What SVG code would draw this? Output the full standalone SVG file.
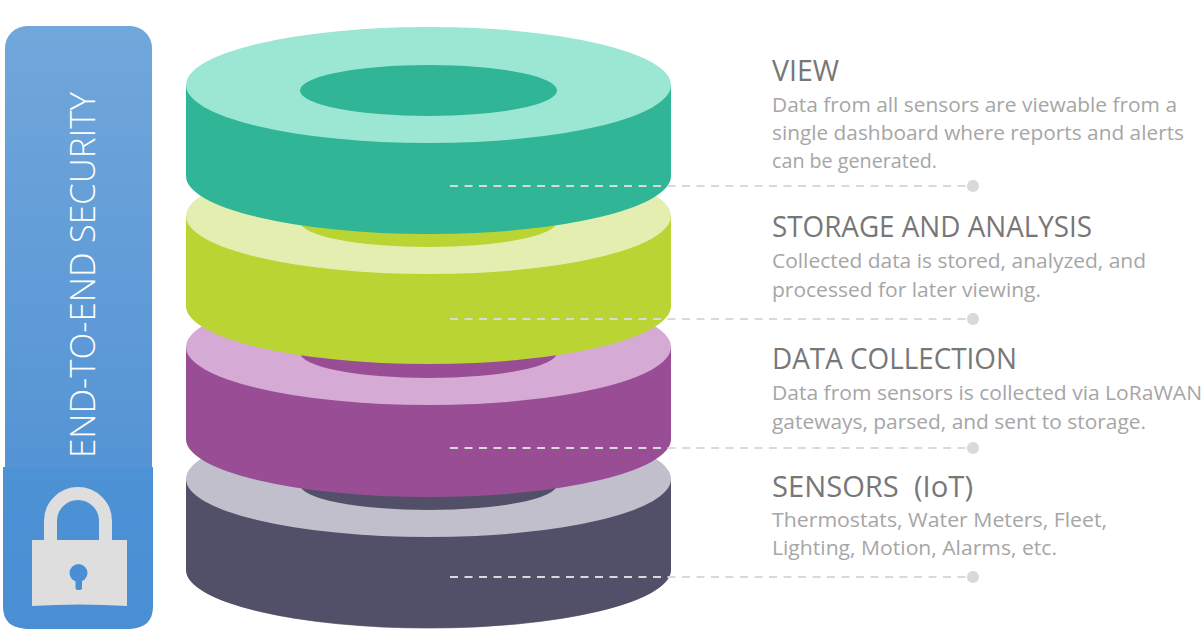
<svg xmlns="http://www.w3.org/2000/svg" width="1203" height="629" viewBox="0 0 1203 629">
  <defs>
    <linearGradient id="barGrad" x1="0" y1="0" x2="0" y2="1">
      <stop offset="0" stop-color="#71a7db"/>
      <stop offset="1" stop-color="#4a8dd2"/>
    </linearGradient>
    <linearGradient id="lockGrad" x1="0" y1="0" x2="0" y2="1">
      <stop offset="0" stop-color="#4e92d6"/>
      <stop offset="1" stop-color="#4a8ed3"/>
    </linearGradient>
    <marker id="dot" viewBox="0 0 14 14" refX="7" refY="7" markerWidth="13" markerHeight="13" markerUnits="userSpaceOnUse">
      <circle cx="7" cy="7" r="6.5" fill="#d9d9d9"/>
    </marker>
  </defs>
  <style>
    .head { font-family: "Open Sans", "Liberation Sans", sans-serif; font-size: 30px; font-weight: 400; fill: #777777; }
    .body { font-family: "Open Sans", "Liberation Sans", sans-serif; font-size: 20px; fill: #a6a6a6; }
    .bar-text { font-family: "Open Sans", "Liberation Sans", sans-serif; font-size: 34px; font-weight: 300; fill: #ffffff; }
    .lead { fill: none; stroke: #d9d9d9; stroke-width: 2; stroke-dasharray: 8 6.5; }
    .lock { fill: #dedede; }
  </style>

  <!-- security bar on the left -->
  <g id="security">
    <rect x="5" y="26" width="147" height="603" rx="22" fill="url(#barGrad)"/>
    <path d="M3 467 H153 V606 Q153 628 131 628 H25 Q3 628 3 606 Z" fill="url(#lockGrad)"/>
    <text class="bar-text" transform="translate(95,275) rotate(-90)" text-anchor="middle" textLength="366" lengthAdjust="spacingAndGlyphs">END-TO-END SECURITY</text>
    <path d="M50.5 541 V521 A27.5 27.5 0 0 1 105.5 521 V541" fill="none" stroke="#dedede" stroke-width="13"/>
    <path class="lock" d="M32 540 H127 V606 Q79.5 603 32 606 Z"/>
    <circle cx="78.5" cy="573" r="9" fill="#4a8fd4"/>
    <rect x="75.5" y="574" width="6.5" height="16" rx="2" fill="#4a8fd4"/>
  </g>

  <!-- stacked layers, drawn bottom to top -->
  <g id="sensors">
    <ellipse cx="428.5" cy="572.5" rx="238" ry="56" fill="#8a8a8a"/>
    <path d="M186 479 V570 A242.5 58 0 0 0 671 570 V479 Z" fill="#525069"/>
    <ellipse cx="428.5" cy="479" rx="242.5" ry="58" fill="#c0bfcb"/>
    <ellipse cx="428.5" cy="484.5" rx="128.5" ry="25.5" fill="#525069"/>
  </g>
  <g id="data-collection">
    <path d="M186 347 V439 A242.5 58 0 0 0 671 439 V347 Z" fill="#984d95"/>
    <ellipse cx="428.5" cy="347" rx="242.5" ry="58" fill="#d5aad4"/>
    <ellipse cx="428.5" cy="352.5" rx="128.5" ry="25.5" fill="#984d95"/>
  </g>
  <g id="storage">
    <path d="M186 216 V306 A242.5 58 0 0 0 671 306 V216 Z" fill="#b9d433"/>
    <ellipse cx="428.5" cy="216" rx="242.5" ry="58" fill="#e3eeb0"/>
    <ellipse cx="428.5" cy="221.5" rx="128.5" ry="25.5" fill="#b9d433"/>
  </g>
  <g id="view">
    <path d="M186 85 V176 A242.5 58 0 0 0 671 176 V85 Z" fill="#30b596"/>
    <ellipse cx="428.5" cy="85" rx="242.5" ry="58" fill="#9ce6d4"/>
    <ellipse cx="428.5" cy="90.5" rx="128.5" ry="25.5" fill="#30b596"/>
  </g>

  <!-- leader lines -->
  <g id="connectors">
    <path class="lead" d="M450 186 H973" marker-end="url(#dot)"/>
    <path class="lead" d="M450 319 H973" marker-end="url(#dot)"/>
    <path class="lead" d="M450 448 H973" marker-end="url(#dot)"/>
    <path class="lead" d="M450 577 H973" marker-end="url(#dot)"/>
  </g>

  <!-- layer descriptions -->
  <g id="label-view">
    <text class="head" x="772" y="81" textLength="67" lengthAdjust="spacingAndGlyphs">VIEW</text>
    <text class="body" x="772" y="112" textLength="405" lengthAdjust="spacingAndGlyphs">Data from all sensors are viewable from a</text>
    <text class="body" x="772" y="140" textLength="412" lengthAdjust="spacingAndGlyphs">single dashboard where reports and alerts</text>
    <text class="body" x="772" y="168" textLength="165" lengthAdjust="spacingAndGlyphs">can be generated.</text>
  </g>
  <g id="label-storage">
    <text class="head" x="772" y="237" textLength="320" lengthAdjust="spacingAndGlyphs">STORAGE AND ANALYSIS</text>
    <text class="body" x="772" y="268" textLength="374" lengthAdjust="spacingAndGlyphs">Collected data is stored, analyzed, and</text>
    <text class="body" x="772" y="297" textLength="269" lengthAdjust="spacingAndGlyphs">processed for later viewing.</text>
  </g>
  <g id="label-data">
    <text class="head" x="772" y="369" textLength="245" lengthAdjust="spacingAndGlyphs">DATA COLLECTION</text>
    <text class="body" x="772" y="400" textLength="430" lengthAdjust="spacingAndGlyphs">Data from sensors is collected via LoRaWAN</text>
    <text class="body" x="772" y="429" textLength="374" lengthAdjust="spacingAndGlyphs">gateways, parsed, and sent to storage.</text>
  </g>
  <g id="label-sensors">
    <text class="head" x="772" y="497" textLength="201" lengthAdjust="spacingAndGlyphs" xml:space="preserve">SENSORS  (IoT)</text>
    <text class="body" x="772" y="527" textLength="335" lengthAdjust="spacingAndGlyphs">Thermostats, Water Meters, Fleet,</text>
    <text class="body" x="772" y="555" textLength="285" lengthAdjust="spacingAndGlyphs">Lighting, Motion, Alarms, etc.</text>
  </g>
</svg>
